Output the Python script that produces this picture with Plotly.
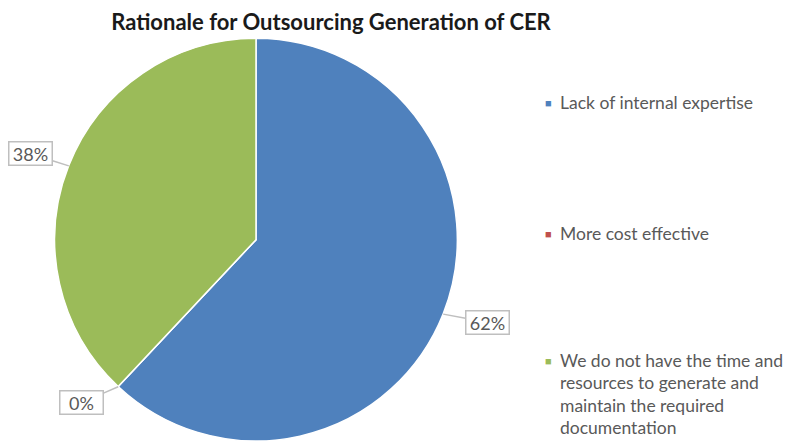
import math
import plotly.graph_objects as go

# data
reasons = [
    "Lack of internal expertise",
    "More cost effective",
    "We do not have the time and<br>resources to generate and<br>maintain the required<br>documentation",
]
shares = [62, 0, 38]
colors = ["#4F81BD", "#C0504D", "#9BBB59"]

# page has an 8px body margin, so the figure is drawn inside it
PAD = 8
W, H = 797 - PAD, 441 - PAD


def px(x):
    return (x - PAD) / W


def py(y):
    return 1 - (y - PAD) / H


# pie sits centred at (256, 240) of the window, radius ~201
dom_y = [0.0, 0.93]
r = (dom_y[1] - dom_y[0]) * H / 2
cx, cy = 256, 240
dom_x = [px(cx - r), px(cx + r)]

fig = go.Figure()
fig.add_trace(go.Pie(
    labels=[t.replace("<br>", " ") for t in reasons],
    values=shares,
    sort=False,
    direction="clockwise",
    rotation=0,
    marker=dict(colors=colors, line=dict(color="white", width=1.5)),
    textinfo="none",
    hoverinfo="label+percent",
    showlegend=False,
    domain=dict(x=dom_x, y=dom_y),
))

# data label callouts, anchored at each slice's middle on the rim
total = sum(shares)
offsets = [(44, 8), (-37, 16), (-38, -12)]  # box offset from anchor, px
start = 0.0
for i, v in enumerate(shares):
    frac = v / total
    th = (start + frac / 2) * 2 * math.pi
    ax_, ay_ = cx + r * math.sin(th), cy - r * math.cos(th)
    dx, dy = offsets[i]
    fig.add_annotation(
        x=px(ax_), y=py(ay_), xref="paper", yref="paper",
        text=f"{frac * 100:.0f}%",
        showarrow=True, arrowhead=0, arrowwidth=1.5, arrowcolor="#BFBFBF",
        ax=dx, ay=dy, width=40, height=20,
        bordercolor="#BFBFBF", borderwidth=1.5, borderpad=1, bgcolor="white",
        font=dict(family="Lato", size=18, color="#595959"),
    )
    start += frac

# legend, drawn by hand for the wide spacing
legend_y = [102, 233, 360]
line_gap = 22.5
for name, col, ly in zip(reasons, colors, legend_y):
    fig.add_annotation(
        x=px(548), y=py(ly), xref="paper", yref="paper",
        text="■", showarrow=False, xanchor="center", yanchor="middle",
        font=dict(size=11, color=col),
    )
    for k, line in enumerate(name.split("<br>")):
        fig.add_annotation(
            x=px(558), y=py(ly + k * line_gap), xref="paper", yref="paper",
            text=line, showarrow=False, xanchor="left", yanchor="middle",
            font=dict(family="Lato", size=17.5, color="#595959"),
        )

fig.update_layout(
    title=dict(
        text="<b>Rationale for Outsourcing Generation of CER</b>",
        x=px(331), xanchor="center", y=py(22), yanchor="middle",
        font=dict(family="Lato", size=22, color="#1a1a1a"),
    ),
    width=W, height=H,
    margin=dict(l=0, r=0, t=0, b=0),
    paper_bgcolor="white",
    plot_bgcolor="white",
)

fig.write_html("out.html")
